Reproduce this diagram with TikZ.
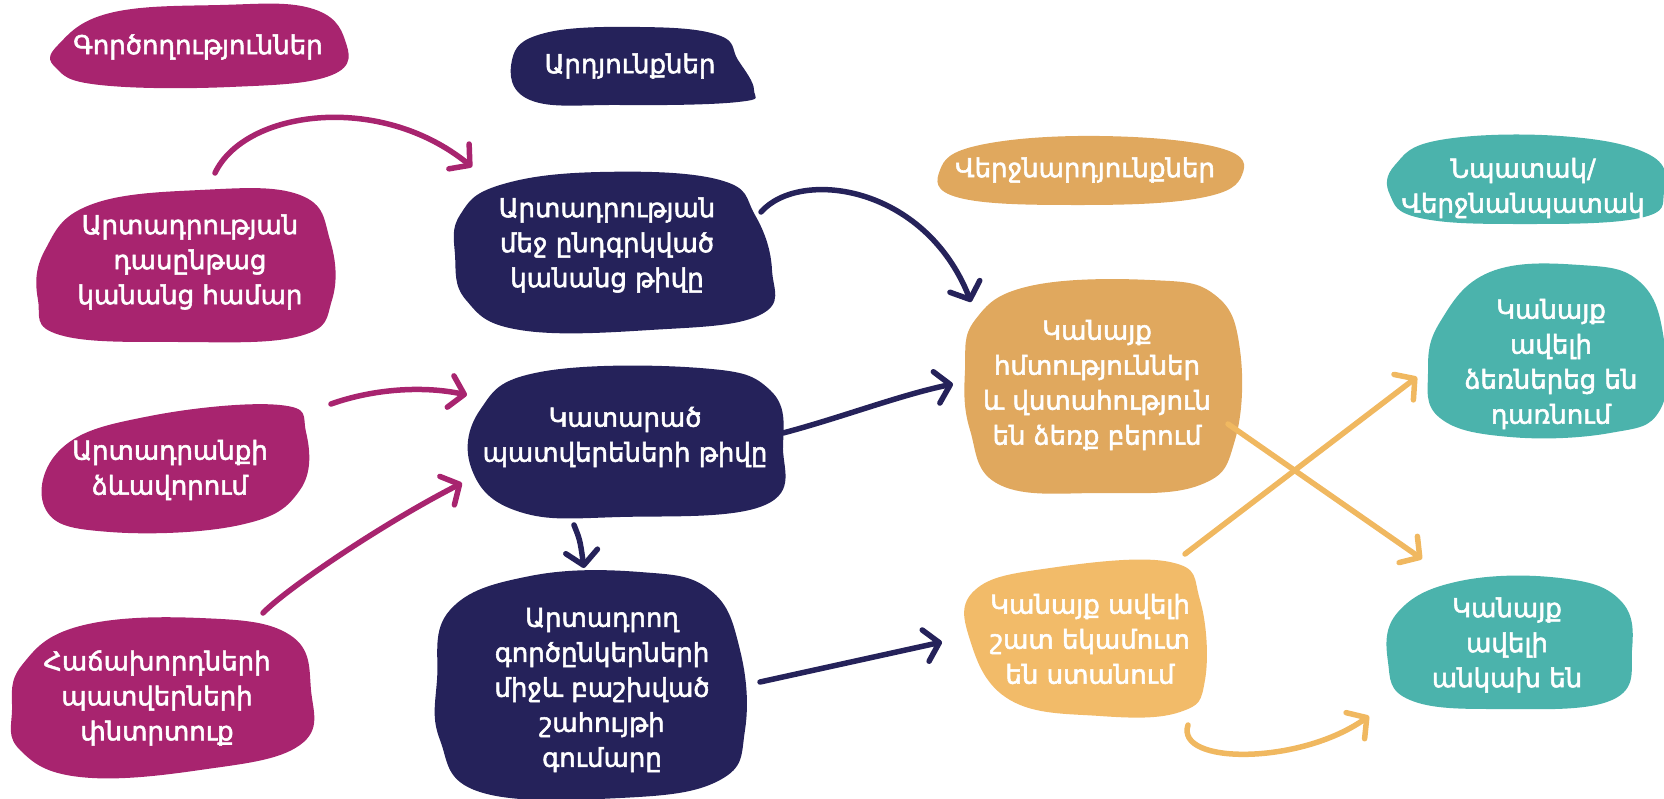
\documentclass[tikz,border=0pt]{standalone}
\usepackage{fontspec}
\setmainfont{DejaVu Sans}
\newfontfamily\labfont{DejaVu Sans}[FakeBold=2]
\usetikzlibrary{arrows.meta}
\definecolor{plum}{HTML}{A8246F}
\definecolor{ink}{HTML}{25225A}
\definecolor{ochre}{HTML}{E0A85E}
\definecolor{sand}{HTML}{F2BB69}
\definecolor{sea}{HTML}{4BB3AC}
\definecolor{amber}{HTML}{F0B860}
\tikzset{
  txt/.style={text=white, align=center, font=\labfont\fontsize{26}{35}\selectfont, inner sep=0pt},
  blob/.style={fill=#1, draw=none},
  conn/.style={draw=#1, line width=5.5pt, line cap=round,
    -{Straight Barb[round, length=14pt, width=32pt]}},
}
\begin{document}
\begin{tikzpicture}[x=1pt, y=-1pt]
\useasboundingbox (0,0) rectangle (1664,798);

% blobs
\fill[blob=plum] plot[smooth cycle, tension=0.7] coordinates {(58,45) (110,13) (220,5) (310,8) (345,40) (332,75) (230,87) (100,85) (56,68)};
\fill[blob=ink] plot[smooth cycle, tension=0.7] coordinates {(512,60) (545,33) (640,27) (718,35) (738,60) (754,90) (738,102) (620,105) (530,100)};
\fill[blob=plum] plot[smooth cycle, tension=0.7] coordinates {(45,250) (90,205) (200,190) (300,195) (330,240) (332,300) (300,336) (180,342) (60,335) (38,300)};
\fill[blob=ink] plot[smooth cycle, tension=0.7] coordinates {(460,215) (500,185) (600,172) (720,180) (755,215) (772,270) (760,315) (650,330) (520,330) (466,300) (455,255)};
\fill[blob=plum] plot[smooth cycle, tension=0.7] coordinates {(62,448) (150,416) (280,405) (306,432) (300,490) (240,525) (110,532) (46,510)};
\fill[blob=ink] plot[smooth cycle, tension=0.7] coordinates {(480,410) (540,372) (700,368) (770,390) (783,445) (765,505) (620,517) (520,512) (472,470)};
\fill[blob=plum] plot[smooth cycle, tension=0.7] coordinates {(22,665) (80,626) (200,618) (290,635) (311,690) (300,745) (200,770) (80,777) (20,750) (12,710)};
\fill[blob=ink] plot[smooth cycle, tension=0.7] coordinates {(450,610) (530,576) (640,572) (710,590) (740,650) (745,730) (720,780) (620,798) (480,792) (440,740) (437,680)};
\fill[blob=ochre] plot[smooth cycle, tension=0.7] coordinates {(940,170) (980,145) (1100,136) (1220,148) (1242,175) (1200,198) (1080,205) (960,198)};
\fill[blob=ochre] plot[smooth cycle, tension=0.7] coordinates {(975,320) (1030,286) (1150,280) (1215,295) (1240,350) (1235,440) (1200,485) (1100,493) (1000,485) (970,430) (965,370)};
\fill[blob=sand] plot[smooth cycle, tension=0.7] coordinates {(975,590) (1050,568) (1170,562) (1200,600) (1205,680) (1180,712) (1100,716) (1010,700) (970,640)};
\fill[blob=sea] plot[smooth cycle, tension=0.7] coordinates {(1395,165) (1440,140) (1560,136) (1650,155) (1664,192) (1640,218) (1520,224) (1420,218) (1390,195)};
\fill[blob=sea] plot[smooth cycle, tension=0.7] coordinates {(1440,322) (1490,272) (1580,265) (1640,282) (1664,340) (1660,410) (1610,433) (1510,437) (1440,418) (1428,372)};
\fill[blob=sea] plot[smooth cycle, tension=0.7] coordinates {(1398,612) (1460,581) (1560,578) (1620,600) (1632,650) (1612,700) (1500,709) (1410,700) (1388,662)};

% labels
\node[txt] (act)   at (198,47)   {Գործողություններ};
\node[txt] (res)   at (630,66)   {Արդյունքներ};
\node[txt] (train) at (190,262)  {Արտադրության\\դասընթաց\\կանանց համար};
\node[txt] (women) at (607,245)  {Արտադրության\\մեջ ընդգրկված\\կանանց թիվը};
\node[txt] (design) at (170,470) {Արտադրանքի\\ձևավորում};
\node[txt] (orders) at (625,437) {Կատարած\\պատվերեների թիվը};
\node[txt] (search) at (157,698) {Հաճախորդների\\պատվերների\\փնտրտուք};
\node[txt] (profit) at (602,690) {Արտադրող\\գործընկերների\\միջև բաշխված\\շահույթի\\գումարը};
\node[txt] (outc)  at (1085,170) {Վերջնարդյունքներ};
\node[txt] (skill) at (1097,385) {Կանայք\\հմտություններ\\և վստահություն\\են ձեռք բերում};
\node[txt] (income) at (1090,639) {Կանայք ավելի\\շատ եկամուտ\\են ստանում};
\node[txt] (goal)  at (1523,188) {Նպատակ/\\Վերջնանպատակ};
\node[txt] (entre) at (1551,364) {Կանայք\\ավելի\\ձեռներեց են\\դառնում};
\node[txt] (indep) at (1507,645) {Կանայք\\ավելի\\անկախ են};

% connector ends
\coordinate (a1s) at (215,173); \coordinate (a1e) at (472,167);
\coordinate (a2s) at (331,404); \coordinate (a2e) at (467,395);
\coordinate (a3s) at (263,613); \coordinate (a3e) at (462,483);
\coordinate (n1s) at (761,212); \coordinate (n1e) at (971,302);
\coordinate (n2s) at (783,433); \coordinate (n2e) at (953,384);
\coordinate (n3s) at (574,525); \coordinate (n3e) at (584,568);
\coordinate (n4s) at (760,682); \coordinate (n4e) at (942,642);
\coordinate (o1s) at (1228,424); \coordinate (o1e) at (1422,559);
\coordinate (o2s) at (1185,554); \coordinate (o2e) at (1417,377);
\coordinate (o3s) at (1188,725); \coordinate (o3e) at (1369,716);

% connectors
\draw[conn=plum] (a1s) .. controls (245,110) and (380,92) .. (a1e);
\draw[conn=plum] (a2s) .. controls (370,390) and (420,385) .. (a2e);
\draw[conn=plum] (a3s) .. controls (285,590) and (380,525) .. (a3e);
\draw[conn=ink] (n1s) .. controls (800,168) and (925,185) .. (n1e);
\draw[conn=ink] (n2s) .. controls (840,418) and (900,395) .. (n2e);
\draw[conn=ink] (n3s) .. controls (580,540) .. (n3e);
\draw[conn=ink] (n4s) -- (n4e);
\draw[conn=amber] (o1s) -- (o1e);
\draw[conn=amber] (o2s) -- (o2e);
\draw[conn=amber] (o3s) .. controls (1175,765) and (1300,765) .. (o3e);
\end{tikzpicture}
\end{document}
